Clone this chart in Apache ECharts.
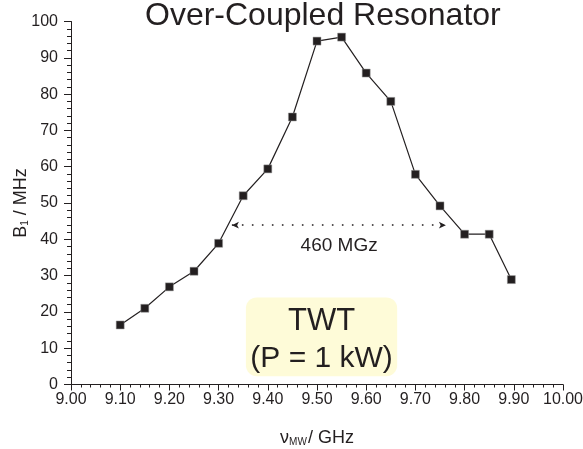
<!DOCTYPE html>
<html>
<head>
<meta charset="utf-8">
<script src="https://cdn.jsdelivr.net/npm/echarts@6/dist/echarts.min.js"></script>
<style>html,body{margin:0;padding:0;background:#fff;}#c{width:583px;height:449px;}</style>
</head>
<body>
<div id="c"></div>
<script>
// ---- data ----
const freqGHz = [9.10, 9.15, 9.20, 9.25, 9.30, 9.35, 9.40, 9.45, 9.50, 9.55, 9.60, 9.65, 9.70, 9.75, 9.80, 9.85, 9.895];
const b1MHz   = [16.4, 21.0, 26.9, 31.2, 38.9, 52.0, 59.4, 73.7, 94.6, 95.7, 85.8, 78.0, 57.9, 49.2, 41.4, 41.4, 28.9];
const widthArrowX = [9.327, 9.762];
const widthArrowY = 43.9;
const widthLabel = '460 MGz';
const titleText = 'Over-Coupled Resonator';
const boxLines = ['TWT', '(P = 1 kW)'];

const FONT = '"Liberation Sans", Arial, Helvetica, sans-serif';
const INK = '#231f20';

const chart = echarts.init(document.getElementById('c'), null, {renderer: 'canvas'});
const option = {
  animation: false,
  backgroundColor: '#fff',
  title: {
    text: titleText,
    left: 140, top: -5,
    textStyle: {fontFamily: FONT, fontSize: 32, fontWeight: 'normal', color: INK}
  },
  grid: {left: 71, right: 20, top: 21.5, bottom: 64.5, containLabel: false, outerBoundsMode: 'none'},
  xAxis: {
    type: 'value', min: 9.0, max: 10.0, interval: 0.1,
    name: '{n|ν}{s|MW}{n|/ GHz}',
    nameLocation: 'middle', nameGap: 43,
    nameTextStyle: {
      rich: {
        n: {fontFamily: FONT, fontSize: 18, color: INK, lineHeight: 20, verticalAlign: 'bottom'},
        s: {fontFamily: FONT, fontSize: 10, color: INK, lineHeight: 9, verticalAlign: 'bottom', padding: [0, 1, 0, 0]}
      }
    },
    axisLine: {show: true, lineStyle: {color: INK, width: 1}},
    axisTick: {show: true, length: 6, lineStyle: {color: INK, width: 1}},
    minorTick: {show: true, splitNumber: 5, length: 3, lineStyle: {color: INK, width: 1}},
    splitLine: {show: false},
    minorSplitLine: {show: false},
    axisLabel: {
      margin: 7, fontFamily: FONT, fontSize: 16, color: INK,
      formatter: v => v.toFixed(2)
    }
  },
  yAxis: {
    type: 'value', min: 0, max: 100, interval: 10,
    name: '{n|B}{s|1}{n| / MHz}',
    nameLocation: 'middle', nameGap: 41, nameMoveOverlap: false,
    nameTextStyle: {
      rich: {
        n: {fontFamily: FONT, fontSize: 18, color: INK, lineHeight: 20, verticalAlign: 'bottom'},
        s: {fontFamily: FONT, fontSize: 10, color: INK, lineHeight: 9, verticalAlign: 'bottom'}
      }
    },
    axisLine: {show: true, lineStyle: {color: INK, width: 1}},
    axisTick: {show: true, length: 7, lineStyle: {color: INK, width: 1}},
    minorTick: {show: true, splitNumber: 5, length: 4, lineStyle: {color: INK, width: 1}},
    splitLine: {show: false},
    minorSplitLine: {show: false},
    axisLabel: {margin: 13, fontFamily: FONT, fontSize: 16, color: INK}
  },
  series: [{
    type: 'line',
    data: freqGHz.map((f, i) => [f, b1MHz[i]]),
    symbol: 'rect', symbolSize: 8,
    itemStyle: {color: INK, borderColor: '#9a9a9a', borderWidth: 0.5},
    lineStyle: {color: INK, width: 1.2},
    z: 3,
    markLine: {
      silent: true,
      symbol: ['arrow', 'arrow'],
      symbolSize: [5, 7],
      label: {show: false},
      lineStyle: {color: INK, width: 1.6, type: [1.6, 8.4]},
      data: [[{coord: [widthArrowX[0], widthArrowY]}, {coord: [widthArrowX[1], widthArrowY]}]]
    }
  }]
};
chart.setOption(option);

// annotations anchored to data coordinates
const p = (x, y) => chart.convertToPixel({gridIndex: 0}, [x, y]);
const boxTL = p(9.3555, 24.0);
const boxBR = p(9.663, 2.3);
const lbl = p(9.545, 38.2);
chart.setOption({
  graphic: [
    {
      type: 'rect', z: 1,
      shape: {x: boxTL[0], y: boxTL[1], width: boxBR[0] - boxTL[0], height: boxBR[1] - boxTL[1], r: 11},
      style: {fill: '#fefbd8'}
    },
    {
      type: 'text', z: 5,
      x: (boxTL[0] + boxBR[0]) / 2, y: boxTL[1] + 24,
      style: {text: boxLines[0], font: '31px ' + FONT, fill: INK, align: 'center', verticalAlign: 'middle'}
    },
    {
      type: 'text', z: 5,
      x: (boxTL[0] + boxBR[0]) / 2, y: boxTL[1] + 61,
      style: {text: boxLines[1], font: '30px ' + FONT, fill: INK, align: 'center', verticalAlign: 'middle'}
    },
    {
      type: 'text', z: 5,
      x: lbl[0], y: lbl[1],
      style: {text: widthLabel, font: '19px ' + FONT, fill: INK, align: 'center', verticalAlign: 'middle'}
    }
  ]
});
</script>
</body>
</html>
